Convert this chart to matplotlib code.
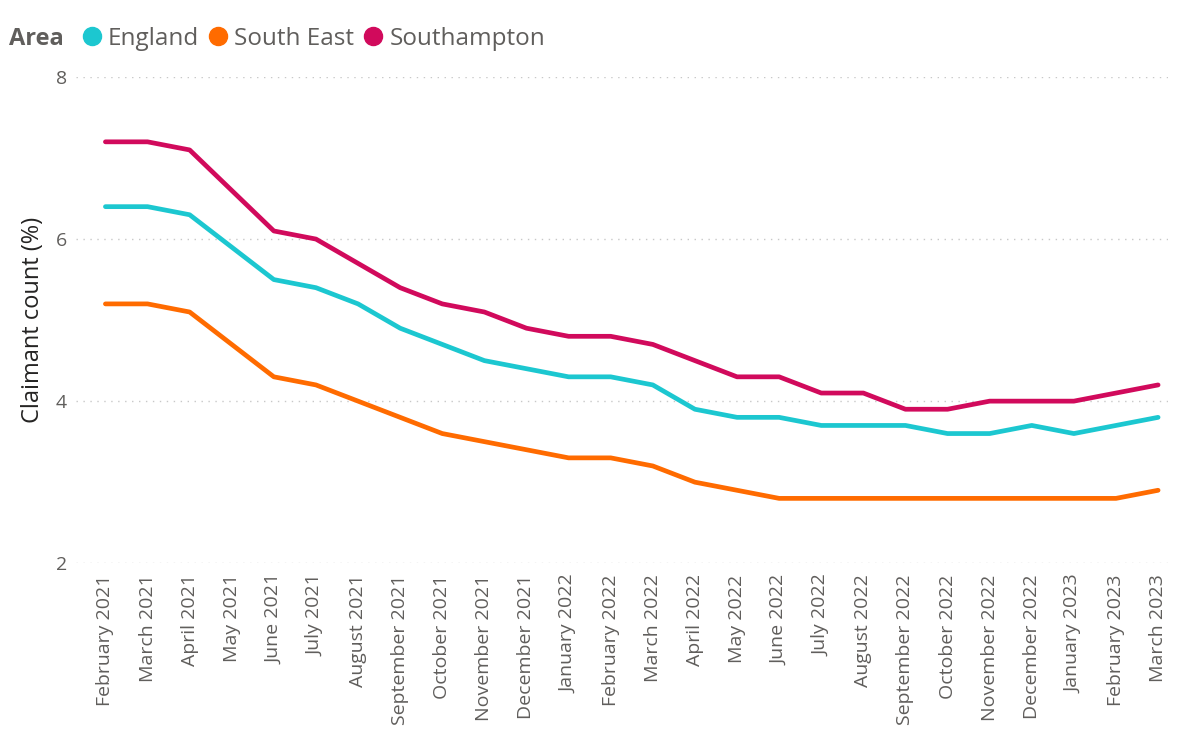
import matplotlib.pyplot as plt
from matplotlib.lines import Line2D

plt.rcParams['font.family'] = ['Open Sans', 'DejaVu Sans']

meses = ['February 2021', 'March 2021', 'April 2021', 'May 2021', 'June 2021',
         'July 2021', 'August 2021', 'September 2021', 'October 2021',
         'November 2021', 'December 2021', 'January 2022', 'February 2022',
         'March 2022', 'April 2022', 'May 2022', 'June 2022', 'July 2022',
         'August 2022', 'September 2022', 'October 2022', 'November 2022',
         'December 2022', 'January 2023', 'February 2023', 'March 2023']

england = [6.4, 6.4, 6.3, 5.9, 5.5, 5.4, 5.2, 4.9, 4.7, 4.5, 4.4, 4.3, 4.3,
           4.2, 3.9, 3.8, 3.8, 3.7, 3.7, 3.7, 3.6, 3.6, 3.7, 3.6, 3.7, 3.8]
south_east = [5.2, 5.2, 5.1, 4.7, 4.3, 4.2, 4.0, 3.8, 3.6, 3.5, 3.4, 3.3, 3.3,
              3.2, 3.0, 2.9, 2.8, 2.8, 2.8, 2.8, 2.8, 2.8, 2.8, 2.8, 2.8, 2.9]
southampton = [7.2, 7.2, 7.1, 6.6, 6.1, 6.0, 5.7, 5.4, 5.2, 5.1, 4.9, 4.8, 4.8,
               4.7, 4.5, 4.3, 4.3, 4.1, 4.1, 3.9, 3.9, 4.0, 4.0, 4.0, 4.1, 4.2]

series = [('England', england, '#1CC7D0'),
          ('South East', south_east, '#FF6B00'),
          ('Southampton', southampton, '#D10A5C')]

cinza = '#605E5C'

fig = plt.figure(figsize=(11.8, 7.44), dpi=100)
ax = fig.add_axes([0.064, 0.243, 0.926, 0.6535])

x = list(range(len(meses)))
for nome, valores, cor in series:
    ax.plot(x, valores, color=cor, lw=3.4, solid_joinstyle='round', solid_capstyle='round')

ax.set_ylim(2, 8)
ax.set_xlim(-0.71, 25.24)
ax.set_yticks([2, 4, 6, 8])
ax.set_xticks(x)
ax.set_xticklabels(meses, rotation=90, fontsize=14, color=cinza)
ax.tick_params(axis='y', labelsize=14, colors=cinza, length=0, pad=6)
ax.tick_params(axis='x', length=0, pad=8)
ax.grid(axis='y', color='#C8C8C8', linestyle=(0, (1, 4)), lw=1)
ax.set_axisbelow(True)
for s in ax.spines.values():
    s.set_visible(False)

ax.set_ylabel('Claimant count (%)', fontsize=17, color='#252423', labelpad=8)

# legenda no topo
fig.text(0.008, 0.948, 'Area', fontsize=17, fontweight='bold', color=cinza, va='center')
handles = [Line2D([], [], marker='o', color=cor, linestyle='', markersize=13) for _, _, cor in series]
leg = fig.legend(handles, [s[0] for s in series], loc='center left', bbox_to_anchor=(0.0695, 0.948),
                 ncol=3, frameon=False, fontsize=17.5, handletextpad=0.25, columnspacing=0.4,
                 handlelength=0.8, borderaxespad=0, borderpad=0)
for t in leg.get_texts():
    t.set_color(cinza)

fig.savefig('out.png', dpi=100)
